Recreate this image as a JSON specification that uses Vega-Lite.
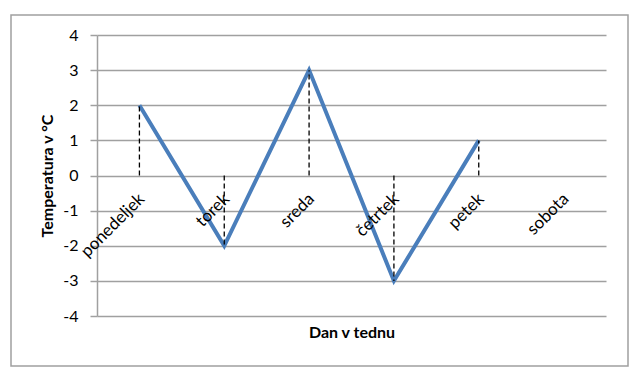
{
  "$schema": "https://vega.github.io/schema/vega-lite/v6.json",
  "width": 617,
  "height": 351,
  "autosize": {"type": "none"},
  "padding": {"left": 11, "top": 15, "right": 12, "bottom": 14},
  "background": "white",
  "config": {
    "view": {"stroke": "#a0a0a0", "strokeWidth": 1.5},
    "font": "Lato"
  },
  "data": {
    "values": [
      {"dan": "ponedeljek", "temperatura": 2},
      {"dan": "torek", "temperatura": -2},
      {"dan": "sreda", "temperatura": 3},
      {"dan": "četrtek", "temperatura": -3},
      {"dan": "petek", "temperatura": 1},
      {"dan": "sobota", "temperatura": null}
    ]
  },
  "encoding": {
    "x": {
      "field": "dan",
      "type": "nominal",
      "sort": null,
      "scale": {
        "type": "point",
        "domain": ["ponedeljek", "torek", "sreda", "četrtek", "petek", "sobota"],
        "range": [86, 595],
        "padding": 0.5
      },
      "axis": {
        "orient": "bottom",
        "offset": -191,
        "title": "Dan v tednu",
        "titleFont": "Lato",
        "titleFontSize": 16,
        "titleFontWeight": "bold",
        "titleColor": "#000000",
        "titleY": 157,
        "titleBaseline": "middle",
        "domain": false,
        "ticks": false,
        "tickSize": 0,
        "grid": false,
        "labelAngle": -45,
        "labelAlign": "right",
        "labelBaseline": "middle",
        "labelPadding": 21,
        "labelOffset": 2,
        "labelFont": "Lato",
        "labelFontSize": 17,
        "labelColor": "#000000",
        "labelOverlap": false,
        "labelBound": false,
        "zindex": 1
      }
    },
    "y": {
      "field": "temperatura",
      "type": "quantitative",
      "scale": {"domain": [-4, 4], "range": [301, 20], "nice": false, "zero": false},
      "axis": {
        "orient": "left",
        "offset": -86,
        "values": [-4, -3, -2, -1, 0, 1, 2, 3, 4],
        "labelExpr": "'' + datum.value",
        "title": "Temperatura v °C",
        "titleFont": "Lato",
        "titleFontSize": 16,
        "titleFontWeight": "bold",
        "titleColor": "#000000",
        "titleX": -50,
        "titleBaseline": "middle",
        "titleAngle": -90,
        "grid": true,
        "gridColor": "#a0a0a0",
        "gridWidth": 1.5,
        "domainColor": "#a0a0a0",
        "domainWidth": 1.5,
        "tickColor": "#a0a0a0",
        "tickWidth": 1.5,
        "tickSize": 7,
        "labelPadding": 12,
        "labelFont": "Lato",
        "labelFontSize": 16,
        "labelColor": "#000000",
        "zindex": 0
      }
    }
  },
  "layer": [
    {
      "mark": {"type": "line", "color": "#4a7ebb", "strokeWidth": 4, "strokeJoin": "miter"},
      "encoding": {}
    },
    {
      "mark": {"type": "rule", "color": "#000000", "strokeWidth": 1.3, "strokeDash": [5, 3]},
      "encoding": {
        "y": {"datum": 0, "type": "quantitative"},
        "y2": {"field": "temperatura"}
      }
    }
  ]
}
